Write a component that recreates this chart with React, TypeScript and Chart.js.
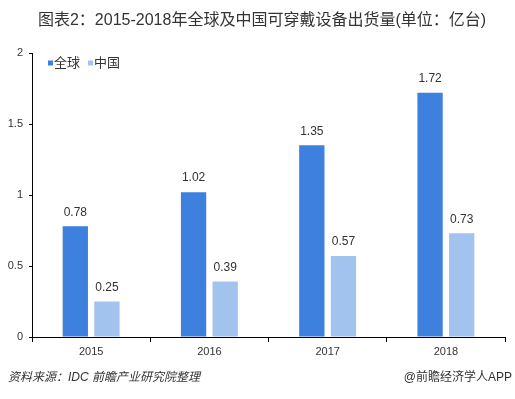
import React, { useEffect, useRef } from "react";
import { Chart, registerables } from "chart.js";

Chart.register(...registerables);

const categories = ["2015", "2016", "2017", "2018"];
const globalValues = [0.78, 1.02, 1.35, 1.72];
const chinaValues = [0.25, 0.39, 0.57, 0.73];
const seriesNames = ["全球", "中国"];
const seriesColors = ["#3d80de", "#a3c3ef"];
const yTicks = [0, 0.5, 1, 1.5, 2];
const titleText = "图表2：2015-2018年全球及中国可穿戴设备出货量(单位：亿台)";
const sourceText = "资料来源：IDC 前瞻产业研究院整理";
const brandText = "@前瞻经济学人APP";

const FONT = "'Liberation Sans', 'Noto Sans CJK SC', sans-serif";

const labelPlugin = {
  id: "valueLabels",
  afterDatasetsDraw(chart: any) {
    const ctx = chart.ctx;
    ctx.save();
    ctx.font = `12px ${FONT}`;
    ctx.fillStyle = "#333";
    ctx.textAlign = "center";
    ctx.textBaseline = "middle";
    chart.data.datasets.forEach((ds: any, i: number) => {
      const meta = chart.getDatasetMeta(i);
      meta.data.forEach((bar: any, j: number) => {
        ctx.fillText(ds.data[j].toFixed(2), bar.x, bar.y - 14);
      });
    });
    ctx.restore();
  },
};

const textPlugin = {
  id: "texts",
  afterDraw(chart: any) {
    const ctx = chart.ctx;
    ctx.save();
    ctx.fillStyle = "#333";
    ctx.textBaseline = "middle";
    ctx.font = `16px ${FONT}`;
    ctx.textAlign = "center";
    ctx.fillText(titleText, 262, 21);
    ctx.font = `italic 12px ${FONT}`;
    ctx.textAlign = "left";
    ctx.fillText(sourceText, 8, 378);
    ctx.font = `12px ${FONT}`;
    ctx.textAlign = "right";
    ctx.fillText(brandText, 512, 378);
    // legend
    ctx.font = `13px ${FONT}`;
    ctx.textAlign = "left";
    let x = 48;
    const y = 63;
    chart.data.datasets.forEach((ds: any, i: number) => {
      ctx.fillStyle = seriesColors[i];
      ctx.fillRect(x, y - 2.5, 5, 5);
      x += 6;
      ctx.fillStyle = "#333";
      ctx.fillText(ds.label, x, y);
      x += ctx.measureText(ds.label).width + 8;
    });
    ctx.restore();
  },
};

export default function App() {
  const ref = useRef<HTMLCanvasElement>(null);
  useEffect(() => {
    const chart = new Chart(ref.current!, {
      type: "bar",
      data: {
        labels: categories,
        datasets: [
          {
            label: seriesNames[0],
            data: globalValues,
            backgroundColor: seriesColors[0],
            categoryPercentage: 0.535,
            barPercentage: 0.8,
          },
          {
            label: seriesNames[1],
            data: chinaValues,
            backgroundColor: seriesColors[1],
            categoryPercentage: 0.535,
            barPercentage: 0.8,
          },
        ],
      },
      options: {
        animation: false,
        responsive: false,
        layout: { padding: { top: 53, bottom: 38, right: 10, left: 0 } },
        plugins: {
          legend: { display: false },
          tooltip: { enabled: false },
          title: { display: false },
        },
        scales: {
          x: {
            offset: true,
            grid: {
              display: true,
              offset: true,
              drawOnChartArea: false,
              tickLength: 5,
              color: "#000",
            },
            border: { color: "#000", width: 1 },
            ticks: { color: "#333", font: { size: 11, family: FONT }, padding: 3 },
            afterFit: (s: any) => {
              s.height = 24;
            },
          },
          y: {
            min: 0,
            max: 2,
            afterBuildTicks: (s: any) => {
              s.ticks = yTicks.map((v) => ({ value: v }));
            },
            grid: {
              display: true,
              drawOnChartArea: false,
              tickLength: 3,
              color: "#000",
            },
            border: { color: "#000", width: 1 },
            ticks: {
              color: "#333",
              font: { size: 11, family: FONT },
              padding: 6,
              callback: (v: any) => String(v),
            },
            afterFit: (s: any) => {
              s.width = 32;
            },
          },
        },
      },
      plugins: [labelPlugin, textPlugin],
    });
    return () => chart.destroy();
  }, []);
  return (
    <div style={{ position: "absolute", left: 0, top: 0, width: 515, height: 399, background: "#fff" }}>
      <canvas ref={ref} width={515} height={399} style={{ display: "block" }} />
    </div>
  );
}
